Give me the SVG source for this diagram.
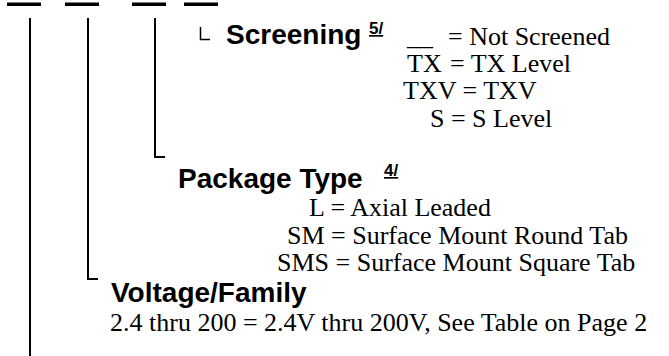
<svg xmlns="http://www.w3.org/2000/svg" width="669" height="356" viewBox="0 0 669 356">
<style>
.bar{fill:#000}
.ln{fill:none;stroke:#000;stroke-width:2}
.lt{fill:none;stroke:#000;stroke-width:1.5}
.h{font-family:"Liberation Sans",Arial,sans-serif;font-weight:bold;font-size:28px;fill:#000}
.sup{font-family:"Liberation Sans",Arial,sans-serif;font-weight:bold;font-size:17px;fill:#000;text-decoration:underline}
.t{font-family:"Liberation Serif","Times New Roman",serif;font-size:26px;fill:#000}
</style>
<rect width="669" height="356" fill="#fff"/>
<g id="bars">
<rect class="bar" x="7" y="2.5" width="34" height="3.5"/>
<rect class="bar" x="65" y="2.5" width="34" height="3.5"/>
<rect class="bar" x="132" y="2.5" width="34" height="3.5"/>
<rect class="bar" x="184" y="2.5" width="34" height="3.5"/>
</g>
<g id="connectors">
<path class="ln" d="M30,18 V356"/>
<path class="ln" d="M88,18 V279 H98"/>
<path class="ln" d="M155,18 V157 H165"/>
<path class="lt" d="M200.5,27 V39.5 H210"/>
</g>
<g id="screening">
<text class="h" x="226" y="44">Screening</text>
<text class="sup" x="369" y="34">5/</text>
<text class="t" x="407" y="45">__</text>
<text class="t" x="448" y="45">= Not Screened</text>
<text class="t" x="407" y="72">TX</text>
<text class="t" x="450" y="72">= TX Level</text>
<text class="t" x="403" y="99">TXV = TXV</text>
<text class="t" x="430" y="127">S = S Level</text>
</g>
<g id="package">
<text class="h" x="178" y="188">Package Type</text>
<text class="sup" x="384" y="176">4/</text>
<text class="t" x="309" y="216">L = Axial Leaded</text>
<text class="t" x="287" y="244">SM = Surface Mount Round Tab</text>
<text class="t" x="277" y="271">SMS = Surface Mount Square Tab</text>
</g>
<g id="voltage">
<text class="h" x="111" y="302">Voltage/Family</text>
<text class="t" x="110" y="331">2.4 thru 200 = 2.4V thru 200V, See Table on Page 2</text>
</g>
</svg>
